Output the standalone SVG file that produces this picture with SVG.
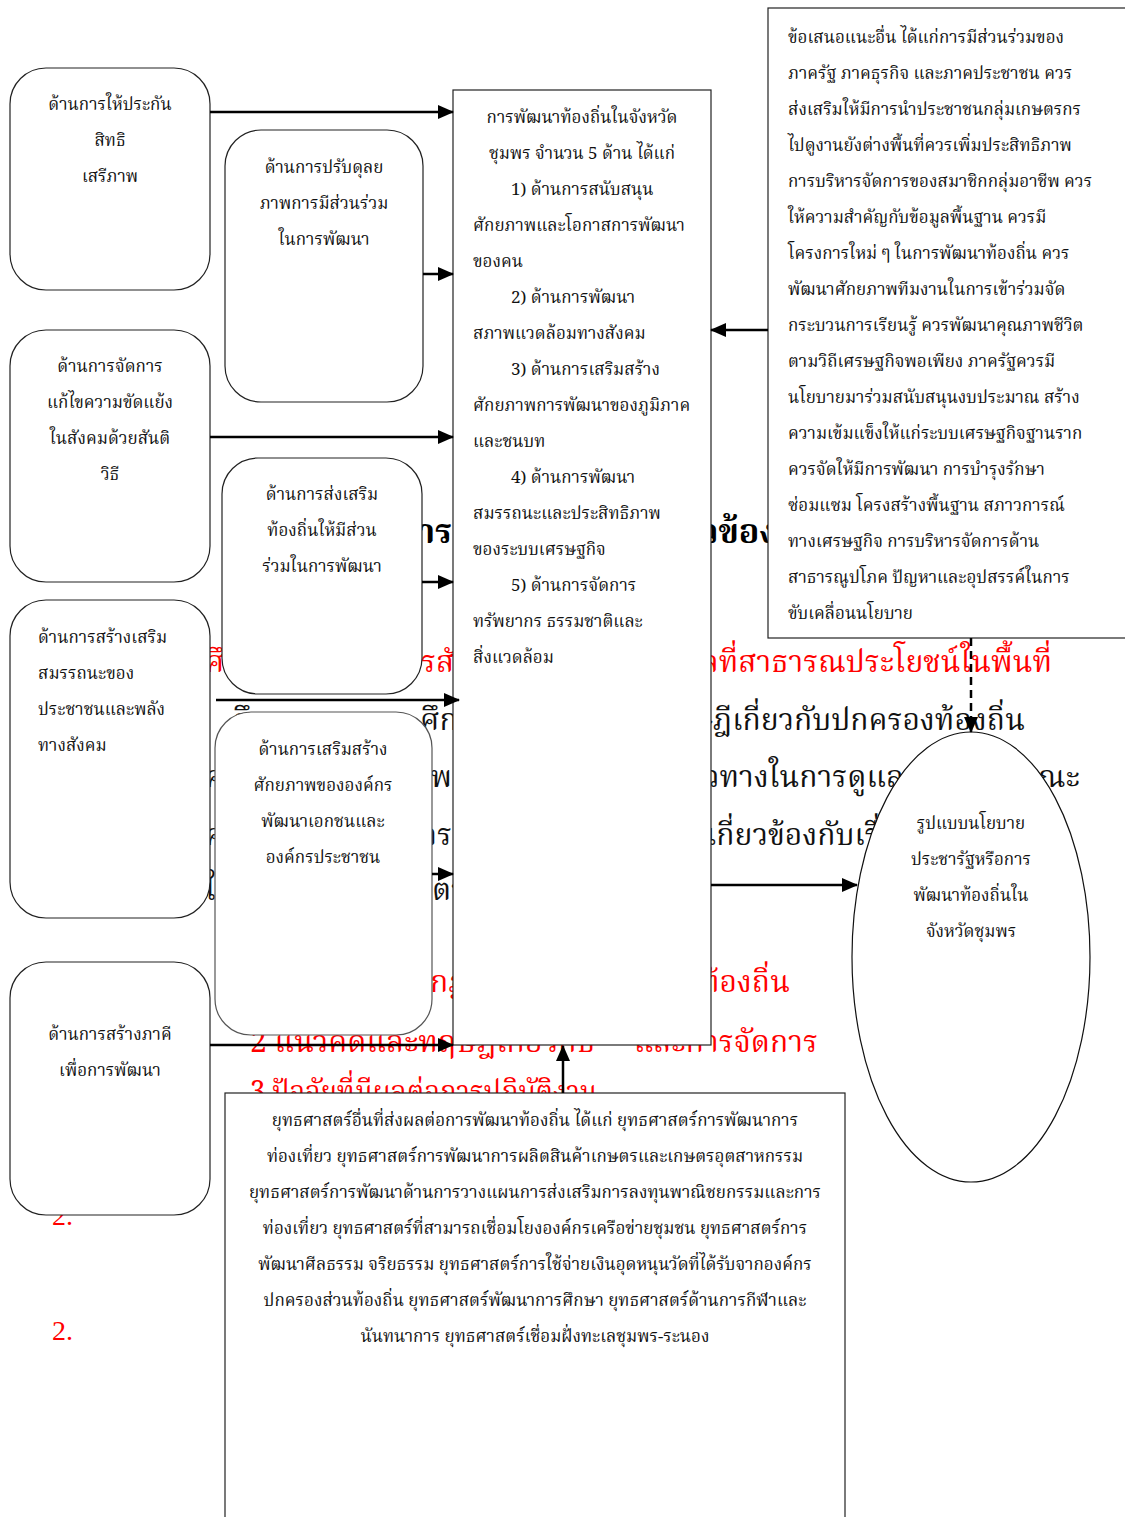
<svg xmlns="http://www.w3.org/2000/svg" width="1125" height="1517" viewBox="0 0 1125 1517">
<style>
text{font-family:"Norasi","Noto Serif Thai","Noto Sans Thai","Garuda","Loma","Liberation Serif",serif;}
.t{font-size:17px;fill:#111;}
.c{text-anchor:middle;}
.bg{font-size:30px;fill:#111;}
.bgb{font-size:34px;font-weight:bold;fill:#000;}
.red{font-size:30px;fill:#ff0000;}
.num{font-family:"Liberation Serif",serif;font-size:28px;fill:#ff0000;}
.box{fill:#fff;stroke:#222;stroke-width:1.2;}
.rbox{fill:#fff;stroke:#222;stroke-width:1.2;}
.con{stroke:#000;stroke-width:2.5;fill:none;}
.dash{stroke:#000;stroke-width:2.5;fill:none;stroke-dasharray:8,5;}
</style>
<defs>
<marker id="ah" markerWidth="16" markerHeight="14" refX="15" refY="7" orient="auto" markerUnits="userSpaceOnUse">
<path d="M0,0 L16,7 L0,14 Z" fill="#000"/>
</marker>
</defs>
<rect width="1125" height="1517" fill="#fff"/>

<g id="background-text">
<text class="bgb" x="452" y="543" text-anchor="end">การ</text>
<text class="bgb" x="700" y="543">วข้อง</text>
<text class="red" x="205" y="672">ศึ</text>
<text class="red" x="421" y="672">รสั</text>
<text class="red" x="1052" y="672" text-anchor="end">แลที่สาธารณประโยชน์ในพื้นที่</text>
<text class="bg" x="232" y="730">ศึกษ</text>
<text class="bg" x="420" y="730">ศึก</text>
<text class="bg" x="1025" y="730" text-anchor="end">ทฤษฎีเกี่ยวกับปกครองท้องถิ่น</text>
<text class="bg" x="205" y="787">ศ</text>
<text class="bg" x="452" y="787" text-anchor="end">พ</text>
<text class="bg" x="704" y="787">วทางในการดูแลรั</text>
<text class="bg" x="1080" y="787" text-anchor="end">ณะ</text>
<text class="bg" x="205" y="845">ค</text>
<text class="bg" x="452" y="845" text-anchor="end">การ</text>
<text class="bg" x="706" y="845">เกี่ยวข้องกับเรื่อง</text>
<text class="bg" x="205" y="900">ใ</text>
<text class="bg" x="432" y="900">ตา</text>
<text class="red" x="430" y="992">กฎ</text>
<text class="red" x="790" y="992" text-anchor="end">ท้องถิ่น</text>
<text class="red" x="250" y="1052">2 แนวคิดและทฤษฎีเกี่ยวกับ</text>
<text class="red" x="818" y="1052" text-anchor="end">และการจัดการ</text>
<text class="red" x="250" y="1102" textLength="348" lengthAdjust="spacingAndGlyphs">3.ปัจจัยที่มีผลต่อการปฏิบัติงาน</text>
<text class="num" x="52" y="1225">2.</text>
<text class="num" x="52" y="1340">2.</text>
</g>

<g id="node-right-suggestions">
<rect class="box" x="768" y="8" width="360" height="630"/>
<text class="t" x="788" y="43">ข้อเสนอแนะอื่น ได้แก่การมีส่วนร่วมของ</text>
<text class="t" x="788" y="79">ภาครัฐ ภาคธุรกิจ และภาคประชาชน ควร</text>
<text class="t" x="788" y="115">ส่งเสริมให้มีการนำประชาชนกลุ่มเกษตรกร</text>
<text class="t" x="788" y="151">ไปดูงานยังต่างพื้นที่ควรเพิ่มประสิทธิภาพ</text>
<text class="t" x="788" y="187">การบริหารจัดการของสมาชิกกลุ่มอาชีพ ควร</text>
<text class="t" x="788" y="223">ให้ความสำคัญกับข้อมูลพื้นฐาน ควรมี</text>
<text class="t" x="788" y="259">โครงการใหม่ ๆ ในการพัฒนาท้องถิ่น ควร</text>
<text class="t" x="788" y="295">พัฒนาศักยภาพทีมงานในการเข้าร่วมจัด</text>
<text class="t" x="788" y="331">กระบวนการเรียนรู้ ควรพัฒนาคุณภาพชีวิต</text>
<text class="t" x="788" y="367">ตามวิถีเศรษฐกิจพอเพียง ภาครัฐควรมี</text>
<text class="t" x="788" y="403">นโยบายมาร่วมสนับสนุนงบประมาณ สร้าง</text>
<text class="t" x="788" y="439">ความเข้มแข็งให้แก่ระบบเศรษฐกิจฐานราก</text>
<text class="t" x="788" y="475">ควรจัดให้มีการพัฒนา การบำรุงรักษา</text>
<text class="t" x="788" y="511">ซ่อมแซม โครงสร้างพื้นฐาน สภาวการณ์</text>
<text class="t" x="788" y="547">ทางเศรษฐกิจ การบริหารจัดการด้าน</text>
<text class="t" x="788" y="583">สาธารณูปโภค ปัญหาและอุปสรรค์ในการ</text>
<text class="t" x="788" y="619">ขับเคลื่อนนโยบาย</text>
</g>

<g id="node-left-1">
<rect class="rbox" x="10" y="68" width="200" height="222" rx="36"/>
<text class="t c" x="110" y="110">ด้านการให้ประกัน</text>
<text class="t c" x="110" y="146">สิทธิ</text>
<text class="t c" x="110" y="182">เสรีภาพ</text>
</g>
<g id="node-left-2">
<rect class="rbox" x="10" y="330" width="200" height="252" rx="36"/>
<text class="t c" x="110" y="372">ด้านการจัดการ</text>
<text class="t c" x="110" y="408">แก้ไขความขัดแย้ง</text>
<text class="t c" x="110" y="444">ในสังคมด้วยสันติ</text>
<text class="t c" x="110" y="480">วิธี</text>
</g>
<g id="node-left-3">
<rect class="rbox" x="10" y="600" width="200" height="318" rx="36"/>
<text class="t" x="38" y="643">ด้านการสร้างเสริม</text>
<text class="t" x="38" y="679">สมรรถนะของ</text>
<text class="t" x="38" y="715">ประชาชนและพลัง</text>
<text class="t" x="38" y="751">ทางสังคม</text>
</g>
<g id="node-left-4">
<rect class="rbox" x="10" y="962" width="200" height="253" rx="36"/>
<text class="t c" x="110" y="1040">ด้านการสร้างภาคี</text>
<text class="t c" x="110" y="1076">เพื่อการพัฒนา</text>
</g>

<g id="node-mid-1">
<rect class="rbox" x="225" y="130" width="198" height="272" rx="36"/>
<text class="t c" x="324" y="173">ด้านการปรับดุลย</text>
<text class="t c" x="324" y="209">ภาพการมีส่วนร่วม</text>
<text class="t c" x="324" y="245">ในการพัฒนา</text>
</g>
<g id="node-mid-2">
<rect class="rbox" x="222" y="458" width="200" height="236" rx="36"/>
<text class="t c" x="322" y="500">ด้านการส่งเสริม</text>
<text class="t c" x="322" y="536">ท้องถิ่นให้มีส่วน</text>
<text class="t c" x="322" y="572">ร่วมในการพัฒนา</text>
</g>
<g id="node-mid-3">
<rect class="rbox" x="215" y="712" width="217" height="323" rx="36" style="stroke:#555"/>
<text class="t c" x="323" y="755">ด้านการเสริมสร้าง</text>
<text class="t c" x="323" y="791">ศักยภาพขององค์กร</text>
<text class="t c" x="323" y="827">พัฒนาเอกชนและ</text>
<text class="t c" x="323" y="863">องค์กรประชาชน</text>
</g>

<g id="node-center">
<rect class="box" x="453" y="90" width="258" height="955"/>
<text class="t c" x="582" y="123">การพัฒนาท้องถิ่นในจังหวัด</text>
<text class="t c" x="582" y="159">ชุมพร จำนวน 5 ด้าน ได้แก่</text>
<text class="t" x="511" y="195">1) ด้านการสนับสนุน</text>
<text class="t" x="473" y="231">ศักยภาพและโอกาสการพัฒนา</text>
<text class="t" x="473" y="267">ของคน</text>
<text class="t" x="511" y="303">2) ด้านการพัฒนา</text>
<text class="t" x="473" y="339">สภาพแวดล้อมทางสังคม</text>
<text class="t" x="511" y="375">3) ด้านการเสริมสร้าง</text>
<text class="t" x="473" y="411">ศักยภาพการพัฒนาของภูมิภาค</text>
<text class="t" x="473" y="447">และชนบท</text>
<text class="t" x="511" y="483">4) ด้านการพัฒนา</text>
<text class="t" x="473" y="519">สมรรถนะและประสิทธิภาพ</text>
<text class="t" x="473" y="555">ของระบบเศรษฐกิจ</text>
<text class="t" x="511" y="591">5) ด้านการจัดการ</text>
<text class="t" x="473" y="627">ทรัพยากร ธรรมชาติและ</text>
<text class="t" x="473" y="663">สิ่งแวดล้อม</text>
</g>

<g id="node-ellipse">
<ellipse cx="971" cy="957" rx="119" ry="225" fill="#fff" stroke="#111" stroke-width="1.2"/>
<text class="t c" x="971" y="829">รูปแบบนโยบาย</text>
<text class="t c" x="971" y="865">ประชารัฐหรือการ</text>
<text class="t c" x="971" y="901">พัฒนาท้องถิ่นใน</text>
<text class="t c" x="971" y="937">จังหวัดชุมพร</text>
</g>

<g id="node-bottom">
<rect class="box" x="225" y="1093" width="620" height="430"/>
<text class="t c" x="535" y="1126">ยุทธศาสตร์อื่นที่ส่งผลต่อการพัฒนาท้องถิ่น ได้แก่ ยุทธศาสตร์การพัฒนาการ</text>
<text class="t c" x="535" y="1162">ท่องเที่ยว ยุทธศาสตร์การพัฒนาการผลิตสินค้าเกษตรและเกษตรอุตสาหกรรม</text>
<text class="t c" x="535" y="1198">ยุทธศาสตร์การพัฒนาด้านการวางแผนการส่งเสริมการลงทุนพาณิชยกรรมและการ</text>
<text class="t c" x="535" y="1234">ท่องเที่ยว ยุทธศาสตร์ที่สามารถเชื่อมโยงองค์กรเครือข่ายชุมชน ยุทธศาสตร์การ</text>
<text class="t c" x="535" y="1270">พัฒนาศีลธรรม จริยธรรม ยุทธศาสตร์การใช้จ่ายเงินอุดหนุนวัดที่ได้รับจากองค์กร</text>
<text class="t c" x="535" y="1306">ปกครองส่วนท้องถิ่น ยุทธศาสตร์พัฒนาการศึกษา ยุทธศาสตร์ด้านการกีฬาและ</text>
<text class="t c" x="535" y="1342">นันทนาการ ยุทธศาสตร์เชื่อมฝั่งทะเลชุมพร-ระนอง</text>
</g>

<g id="connectors">
<line class="con" x1="210" y1="112" x2="453" y2="112" marker-end="url(#ah)"/>
<line class="con" x1="423" y1="274" x2="453" y2="274" marker-end="url(#ah)"/>
<line class="con" x1="210" y1="437" x2="453" y2="437" marker-end="url(#ah)"/>
<line class="con" x1="422" y1="582" x2="453" y2="582" marker-end="url(#ah)"/>
<line class="con" x1="216" y1="700" x2="459" y2="700" marker-end="url(#ah)"/>
<line class="con" x1="432" y1="874" x2="453" y2="874" marker-end="url(#ah)"/>
<line class="con" x1="210" y1="1045" x2="453" y2="1045" marker-end="url(#ah)"/>
<line class="con" x1="563" y1="1093" x2="563" y2="1046" marker-end="url(#ah)"/>
<line class="con" x1="768" y1="330" x2="711" y2="330" marker-end="url(#ah)"/>
<line class="con" x1="711" y1="885" x2="857" y2="885" marker-end="url(#ah)"/>
<line class="dash" x1="971" y1="638" x2="971" y2="732" marker-end="url(#ah)"/>
</g>
</svg>
